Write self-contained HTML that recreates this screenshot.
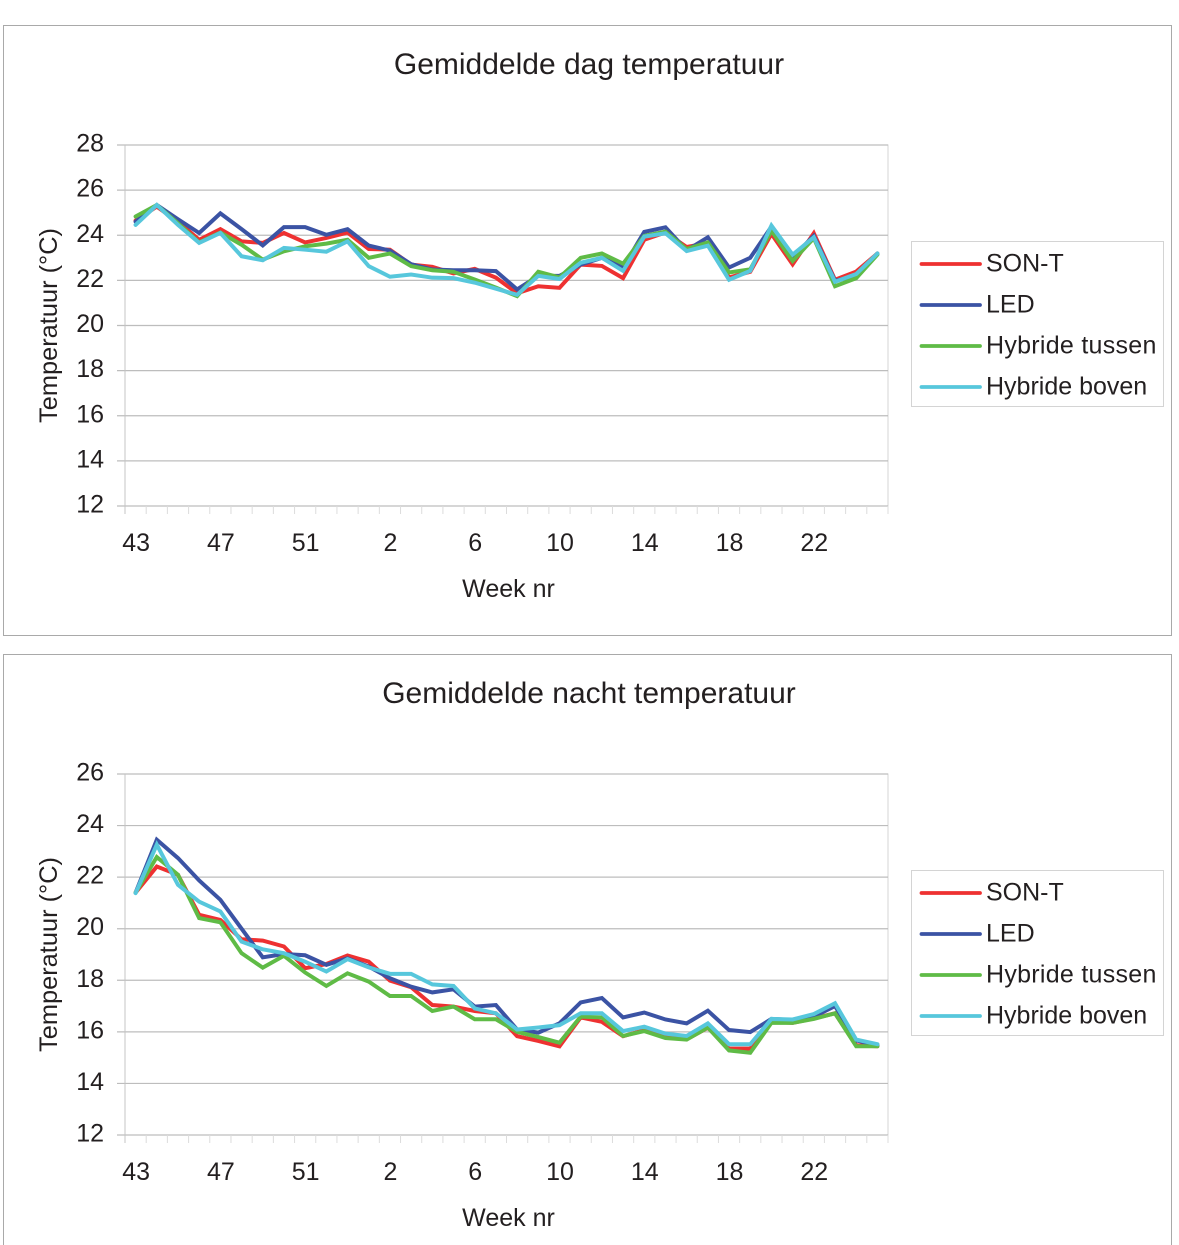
<!DOCTYPE html>
<html lang="nl">
<head>
<meta charset="utf-8">
<title>Gemiddelde temperatuur</title>
<style>
html,body{margin:0;padding:0;background:#fff;width:1179px;height:1245px;overflow:hidden}
svg{display:block}
text{font-family:"Liberation Sans",sans-serif;fill:#231f20}
</style>
</head>
<body>
<svg id="root" xmlns="http://www.w3.org/2000/svg" width="1179" height="1245" viewBox="0 0 1179 1245"></svg>
<script>
const weeks = [43,44,45,46,47,48,49,50,51,52,53,1,2,3,4,5,6,7,8,9,10,11,12,13,14,15,16,17,18,19,20,21,22,23,24,25];
const seriesNames = ['SON-T','LED','Hybride tussen','Hybride boven'];
const seriesColors = ['#ee3131','#3b53a4','#5fbb46','#57c7dc'];

const dayTitle = 'Gemiddelde dag temperatuur';
const dayTicks = [12,14,16,18,20,22,24,26,28];
const daySonT = [24.65,25.27,24.6,23.8,24.27,23.73,23.66,24.1,23.68,23.88,24.12,23.39,23.36,22.7,22.6,22.31,22.51,22.12,21.43,21.74,21.67,22.7,22.64,22.1,23.8,24.12,23.48,23.65,22.13,22.38,24.06,22.71,24.09,22.03,22.39,23.19];
const dayLed = [24.6,25.34,24.71,24.1,24.97,24.27,23.55,24.36,24.36,24.02,24.27,23.54,23.32,22.72,22.48,22.45,22.45,22.41,21.6,22.2,22.2,22.7,23,22.57,24.15,24.35,23.33,23.91,22.57,23,24.38,23.04,23.97,21.98,22.2,23.19];
const dayTussen = [24.83,25.34,24.53,23.68,24.12,23.58,22.92,23.29,23.51,23.63,23.8,23,23.19,22.63,22.45,22.38,22.04,21.68,21.3,22.38,22.13,23,23.19,22.74,23.97,24.16,23.39,23.68,22.35,22.49,24.2,22.86,23.87,21.74,22.1,23.14];
const dayBoven = [24.46,25.34,24.46,23.66,24.1,23.07,22.89,23.44,23.36,23.27,23.73,22.63,22.16,22.26,22.12,22.1,21.9,21.63,21.36,22.2,22.06,22.78,23,22.42,23.94,24.09,23.3,23.54,22.03,22.42,24.43,23.14,23.91,21.94,22.28,23.19];

const nightTitle = 'Gemiddelde nacht temperatuur';
const nightTicks = [12,14,16,18,20,22,24,26];
const nightSonT = [21.4,22.41,22.09,20.54,20.34,19.59,19.54,19.31,18.47,18.63,18.96,18.72,17.99,17.73,17.04,16.98,16.81,16.72,15.83,15.65,15.44,16.56,16.39,15.83,16.07,15.84,15.71,16.16,15.35,15.35,16.39,16.35,16.52,16.72,15.48,15.44];
const nightLed = [21.4,23.45,22.74,21.87,21.12,20,18.89,19.02,18.97,18.6,18.85,18.53,18.08,17.75,17.53,17.65,16.98,17.04,16.09,15.97,16.33,17.14,17.31,16.56,16.75,16.48,16.33,16.82,16.07,15.99,16.5,16.46,16.59,17,15.67,15.48];
const nightTussen = [21.4,22.78,22.09,20.41,20.25,19.05,18.49,18.95,18.3,17.78,18.27,17.95,17.39,17.39,16.81,16.98,16.49,16.49,16,15.8,15.58,16.59,16.56,15.84,16.03,15.76,15.7,16.17,15.28,15.19,16.35,16.35,16.5,16.72,15.44,15.44];
const nightBoven = [21.38,23.26,21.7,21.05,20.67,19.5,19.2,19.05,18.72,18.34,18.82,18.5,18.25,18.25,17.84,17.78,16.91,16.72,16.09,16.17,16.26,16.72,16.72,16.03,16.2,15.93,15.84,16.33,15.52,15.52,16.5,16.48,16.69,17.11,15.7,15.52];

const NS = 'http://www.w3.org/2000/svg';
const root = document.getElementById('root');

function mk(parent, tag, attrs, txt) {
  const el = document.createElementNS(NS, tag);
  for (const k in attrs) el.setAttribute(k, attrs[k]);
  if (txt !== undefined) el.textContent = txt;
  parent.appendChild(el);
  return el;
}

function drawChart(key, offset, title, ticks, series) {
  const g = mk(root, 'g', {transform: 'translate(0,' + offset + ')'});
  
  

  const left = 125, right = 888, top = 145, bottom = 506;
  const yMin = ticks[0], yMax = ticks[ticks.length - 1];
  const xScale = i => left + (right - left) * (i + 0.5) / weeks.length;
  const yScale = v => bottom - (v - yMin) / (yMax - yMin) * (bottom - top);

  const panel = mk(g, 'rect', {x: 3.5, y: 25.5, width: 1168, height: 610, fill: '#fff', stroke: '#a9a9a9', 'stroke-width': 1});
  
  

  const titleEl = mk(g, 'text', {x: 589, y: 74, 'text-anchor': 'middle', 'font-size': 30}, title);
  
  

  const plotBorder = mk(g, 'rect', {x: left, y: top, width: right - left, height: bottom - top, fill: 'none', stroke: '#d4d4d4', 'stroke-width': 1});
  
  

  ticks.forEach(t => {
    const y = yScale(t);
    const grid = mk(g, 'line', {x1: 117, x2: right, y1: y, y2: y, stroke: '#bdbdbd', 'stroke-width': 1.2});
    
    
    const label = mk(g, 'text', {x: 104, y: y + 6.5, 'text-anchor': 'end', 'font-size': 25}, String(t));
    
    
  });

  const yAxis = mk(g, 'line', {x1: left, x2: left, y1: top, y2: bottom + 8, stroke: '#c4c4c4', 'stroke-width': 1});
  
  

  for (let i = 1; i <= weeks.length; i++) {
    const x = left + (right - left) * i / weeks.length;
    const tick = mk(g, 'line', {x1: x, x2: x, y1: bottom, y2: bottom + 8, stroke: '#dcdcdc', 'stroke-width': 1});
    
    
  }

  weeks.forEach((w, i) => {
    if (i % 4 !== 0) return;
    const label = mk(g, 'text', {x: xScale(i) + 0.5, y: 551, 'text-anchor': 'middle', 'font-size': 25}, String(w));
    
    
  });

  const yTitle = mk(g, 'text', {transform: 'translate(57,325.5) rotate(-90)', 'text-anchor': 'middle', 'font-size': 25.4}, 'Temperatuur (°C)');
  
  

  const xTitle = mk(g, 'text', {x: 508.5, y: 597, 'text-anchor': 'middle', 'font-size': 25}, 'Week nr');
  
  

  series.forEach((values, s) => {
    const pts = values.map((v, i) => xScale(i).toFixed(2) + ',' + yScale(v).toFixed(2)).join(' ');
    const line = mk(g, 'polyline', {points: pts, fill: 'none', stroke: seriesColors[s], 'stroke-width': 4, 'stroke-linejoin': 'miter', 'stroke-linecap': 'round'});
    
    
  });

  const legend = mk(g, 'g', {});
  
  
  mk(legend, 'rect', {x: 911.5, y: 241.5, width: 252, height: 165, fill: '#fff', stroke: '#d4d4d4', 'stroke-width': 1});
  seriesNames.forEach((name, s) => {
    const y = 264 + 41 * s;
    const entry = mk(legend, 'g', {});
    
    
    mk(entry, 'line', {x1: 921.5, x2: 980, y1: y, y2: y, stroke: seriesColors[s], 'stroke-width': 3.8, 'stroke-linecap': 'round'});
    mk(entry, 'text', {x: 986, y: y + 7.5, 'font-size': 25, 'letter-spacing': s === 2 ? 0.28 : 0}, name);
  });
}

drawChart('day', 0, dayTitle, dayTicks, [daySonT, dayLed, dayTussen, dayBoven]);
drawChart('night', 629, nightTitle, nightTicks, [nightSonT, nightLed, nightTussen, nightBoven]);
</script>
</body>
</html>
